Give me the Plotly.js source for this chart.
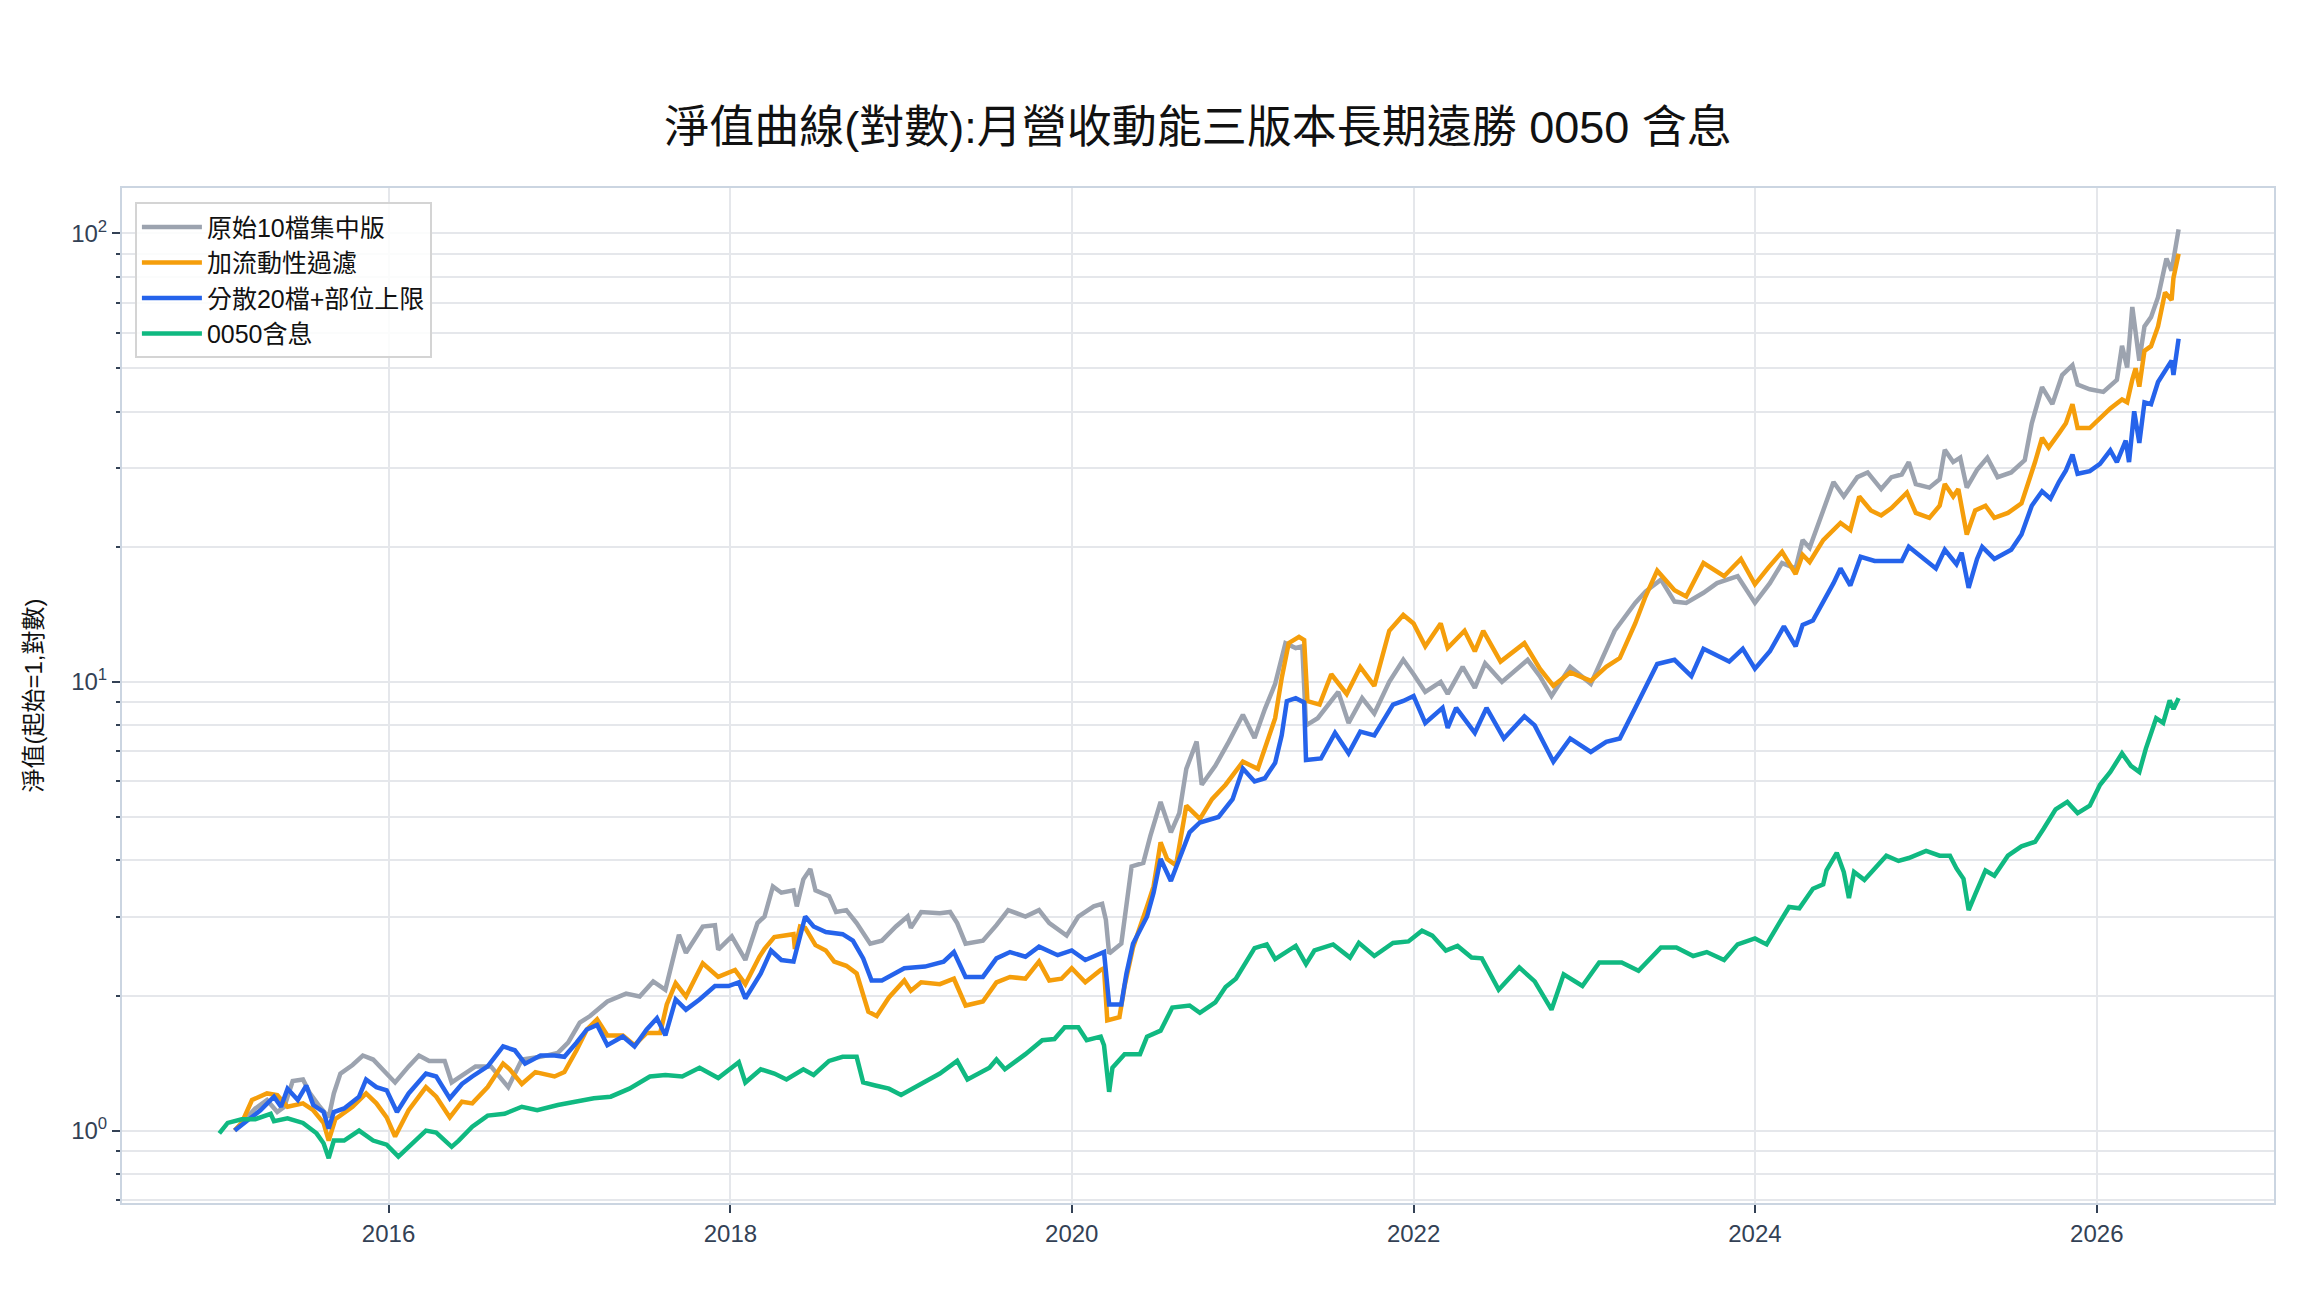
<!DOCTYPE html>
<html>
<head>
<meta charset="utf-8">
<script src="https://cdn.plot.ly/plotly-3.0.1.min.js"></script>
<style>
  html, body { margin: 0; padding: 0; background: #ffffff; }
  #chart { width: 2304px; height: 1296px; }
</style>
</head>
<body>
<div id="chart"></div>
<script>
// ---- Data (x in decimal years, y = net value, start = 1) ----
const seriesNames = ["原始10檔集中版", "加流動性過濾", "分散20檔+部位上限", "0050含息"];

const grayX = [2015.10,2015.14,2015.22,2015.29,2015.35,2015.39,2015.44,2015.50,2015.54,2015.60,2015.65,2015.68,2015.72,2015.79,2015.85,2015.91,2015.95,2016.04,2016.12,2016.18,2016.24,2016.33,2016.37,2016.43,2016.51,2016.60,2016.66,2016.70,2016.78,2016.89,2016.99,2017.05,2017.12,2017.18,2017.28,2017.39,2017.47,2017.55,2017.62,2017.70,2017.74,2017.84,2017.91,2017.93,2018.01,2018.09,2018.16,2018.20,2018.25,2018.30,2018.37,2018.39,2018.43,2018.47,2018.50,2018.58,2018.62,2018.68,2018.74,2018.82,2018.89,2018.97,2019.04,2019.06,2019.12,2019.23,2019.29,2019.33,2019.38,2019.48,2019.56,2019.63,2019.73,2019.81,2019.87,2019.97,2020.04,2020.13,2020.18,2020.20,2020.22,2020.29,2020.35,2020.42,2020.46,2020.52,2020.58,2020.63,2020.67,2020.73,2020.76,2020.84,2020.92,2021.00,2021.07,2021.13,2021.19,2021.25,2021.31,2021.35,2021.37,2021.44,2021.56,2021.62,2021.70,2021.77,2021.86,2021.94,2022.00,2022.07,2022.16,2022.20,2022.29,2022.36,2022.42,2022.52,2022.67,2022.74,2022.81,2022.92,2023.04,2023.18,2023.30,2023.36,2023.45,2023.53,2023.60,2023.70,2023.78,2023.90,2024.00,2024.09,2024.16,2024.24,2024.28,2024.32,2024.40,2024.46,2024.52,2024.56,2024.60,2024.66,2024.74,2024.80,2024.86,2024.90,2024.94,2025.02,2025.08,2025.11,2025.16,2025.20,2025.24,2025.30,2025.36,2025.42,2025.50,2025.58,2025.62,2025.68,2025.74,2025.80,2025.86,2025.89,2025.96,2026.04,2026.12,2026.15,2026.18,2026.21,2026.25,2026.28,2026.32,2026.36,2026.41,2026.44,2026.48];
const grayY = [1.00,1.04,1.12,1.17,1.10,1.13,1.29,1.30,1.21,1.13,1.07,1.21,1.34,1.40,1.47,1.44,1.39,1.28,1.39,1.47,1.43,1.43,1.28,1.33,1.39,1.39,1.30,1.25,1.44,1.46,1.49,1.57,1.74,1.80,1.94,2.02,1.99,2.15,2.06,2.73,2.49,2.85,2.87,2.53,2.71,2.40,2.90,3.00,3.50,3.39,3.43,3.16,3.63,3.83,3.43,3.33,3.07,3.10,2.90,2.61,2.65,2.85,3.00,2.83,3.07,3.05,3.07,2.90,2.61,2.65,2.87,3.10,3.00,3.10,2.90,2.72,3.00,3.16,3.20,2.95,2.48,2.61,3.88,3.95,4.53,5.40,4.62,5.10,6.40,7.36,5.90,6.50,7.36,8.45,7.50,8.70,9.90,12.2,11.9,12.0,8.00,8.30,9.50,8.10,9.20,8.50,10.0,11.2,10.4,9.50,10.0,9.40,10.8,9.70,11.0,10.0,11.2,10.3,9.30,10.8,9.90,13.0,15.0,15.9,16.9,15.1,15.0,15.8,16.6,17.2,15.0,16.6,18.4,17.9,20.7,19.9,24.1,27.9,25.9,27.1,28.6,29.3,26.9,28.6,29.0,30.9,27.6,27.1,28.3,32.9,30.9,31.6,27.1,29.7,31.6,28.6,29.3,31.2,37.7,45.4,41.6,48.3,50.8,46.0,44.9,44.3,47.1,56.1,50.2,68.5,52.0,62.0,65.0,72.0,87.8,82.5,102.0];

const orangeX = [2015.10,2015.14,2015.20,2015.29,2015.35,2015.41,2015.50,2015.56,2015.62,2015.65,2015.69,2015.79,2015.87,2015.93,2015.99,2016.04,2016.12,2016.22,2016.28,2016.36,2016.43,2016.49,2016.58,2016.67,2016.71,2016.78,2016.86,2016.97,2017.03,2017.10,2017.16,2017.22,2017.28,2017.37,2017.44,2017.51,2017.59,2017.63,2017.68,2017.74,2017.84,2017.93,2018.03,2018.09,2018.17,2018.20,2018.26,2018.37,2018.38,2018.41,2018.44,2018.50,2018.56,2018.61,2018.68,2018.74,2018.81,2018.86,2018.93,2019.02,2019.06,2019.12,2019.23,2019.31,2019.38,2019.48,2019.56,2019.64,2019.73,2019.81,2019.87,2019.94,2020.00,2020.08,2020.17,2020.19,2020.21,2020.28,2020.31,2020.36,2020.44,2020.48,2020.52,2020.56,2020.61,2020.67,2020.75,2020.82,2020.90,2021.00,2021.09,2021.15,2021.19,2021.23,2021.27,2021.33,2021.36,2021.38,2021.45,2021.52,2021.61,2021.69,2021.77,2021.86,2021.94,2022.00,2022.07,2022.16,2022.20,2022.30,2022.36,2022.41,2022.51,2022.65,2022.74,2022.82,2022.92,2023.04,2023.13,2023.21,2023.30,2023.36,2023.43,2023.53,2023.60,2023.70,2023.82,2023.92,2024.00,2024.08,2024.16,2024.24,2024.28,2024.32,2024.40,2024.50,2024.56,2024.61,2024.68,2024.74,2024.80,2024.89,2024.94,2025.02,2025.08,2025.11,2025.16,2025.19,2025.24,2025.29,2025.35,2025.40,2025.48,2025.56,2025.60,2025.64,2025.68,2025.72,2025.78,2025.82,2025.86,2025.89,2025.96,2026.04,2026.08,2026.15,2026.18,2026.21,2026.23,2026.25,2026.28,2026.32,2026.36,2026.40,2026.44,2026.45,2026.48];
const orangeY = [1.00,1.04,1.17,1.21,1.20,1.13,1.15,1.11,1.04,0.95,1.06,1.13,1.21,1.15,1.07,0.97,1.11,1.25,1.19,1.07,1.16,1.15,1.25,1.41,1.37,1.27,1.35,1.32,1.35,1.51,1.68,1.77,1.63,1.63,1.55,1.65,1.65,1.91,2.13,1.99,2.36,2.20,2.28,2.12,2.44,2.54,2.70,2.74,2.54,2.85,2.83,2.59,2.52,2.38,2.33,2.24,1.84,1.80,1.98,2.16,2.05,2.14,2.12,2.18,1.90,1.94,2.14,2.20,2.18,2.38,2.16,2.18,2.30,2.14,2.28,2.30,1.76,1.79,2.10,2.56,3.16,3.50,4.39,4.03,3.90,5.30,4.95,5.48,5.90,6.64,6.40,7.40,8.30,10.2,12.2,12.6,12.4,9.06,8.90,10.4,9.40,10.8,9.80,13.0,14.1,13.5,12.0,13.5,11.9,13.0,11.7,13.0,11.1,12.2,10.7,9.80,10.5,10.05,10.8,11.3,13.5,15.5,17.7,16.0,15.5,18.4,17.2,18.8,16.5,18.0,19.5,17.4,19.2,18.5,20.7,22.6,21.8,25.9,24.1,23.5,24.4,26.4,23.8,23.2,24.7,27.6,25.9,26.9,21.3,24.1,24.7,23.2,23.8,25.0,27.6,30.9,35.0,33.3,35.8,37.7,41.6,36.8,36.8,39.2,40.7,42.6,42.0,47.2,50.0,45.5,54.7,56.0,62.0,73.8,71.0,79.5,90.0];

const blueX = [2015.10,2015.18,2015.25,2015.33,2015.37,2015.41,2015.47,2015.52,2015.56,2015.62,2015.65,2015.68,2015.74,2015.83,2015.87,2015.93,2015.99,2016.05,2016.12,2016.22,2016.28,2016.36,2016.43,2016.49,2016.58,2016.67,2016.74,2016.80,2016.89,2016.97,2017.03,2017.10,2017.16,2017.22,2017.28,2017.37,2017.44,2017.51,2017.57,2017.62,2017.68,2017.74,2017.82,2017.91,2017.99,2018.05,2018.09,2018.18,2018.24,2018.30,2018.37,2018.44,2018.49,2018.56,2018.66,2018.72,2018.78,2018.83,2018.89,2019.02,2019.14,2019.25,2019.31,2019.38,2019.48,2019.56,2019.64,2019.73,2019.81,2019.92,2020.00,2020.08,2020.17,2020.19,2020.22,2020.29,2020.32,2020.36,2020.44,2020.48,2020.52,2020.58,2020.63,2020.69,2020.75,2020.86,2020.94,2021.00,2021.07,2021.13,2021.19,2021.23,2021.26,2021.31,2021.36,2021.37,2021.46,2021.54,2021.62,2021.69,2021.77,2021.88,2021.94,2022.00,2022.07,2022.17,2022.20,2022.25,2022.36,2022.43,2022.53,2022.65,2022.71,2022.82,2022.92,2023.04,2023.13,2023.21,2023.30,2023.43,2023.53,2023.63,2023.70,2023.85,2023.93,2024.00,2024.09,2024.17,2024.24,2024.28,2024.34,2024.38,2024.46,2024.50,2024.56,2024.62,2024.70,2024.78,2024.86,2024.90,2025.00,2025.06,2025.11,2025.18,2025.21,2025.25,2025.30,2025.33,2025.40,2025.50,2025.56,2025.62,2025.68,2025.73,2025.78,2025.82,2025.86,2025.89,2025.96,2026.02,2026.08,2026.12,2026.17,2026.19,2026.22,2026.25,2026.28,2026.32,2026.36,2026.40,2026.44,2026.45,2026.48];
const blueY = [1.00,1.06,1.11,1.19,1.13,1.24,1.17,1.26,1.14,1.10,1.01,1.10,1.12,1.19,1.30,1.25,1.23,1.10,1.21,1.34,1.32,1.18,1.27,1.32,1.39,1.54,1.51,1.41,1.47,1.47,1.46,1.57,1.68,1.72,1.55,1.62,1.54,1.68,1.78,1.63,1.96,1.86,1.96,2.10,2.10,2.14,1.97,2.24,2.52,2.40,2.38,3.00,2.85,2.77,2.74,2.65,2.42,2.16,2.16,2.30,2.32,2.38,2.50,2.20,2.20,2.42,2.50,2.44,2.57,2.46,2.52,2.40,2.48,2.50,1.91,1.91,2.24,2.61,3.00,3.39,4.03,3.60,4.03,4.62,4.86,5.00,5.48,6.41,6.00,6.10,6.60,7.60,9.06,9.20,9.00,6.70,6.75,7.70,6.93,7.75,7.60,8.90,9.07,9.30,8.10,8.75,7.90,8.75,7.70,8.75,7.48,8.38,8.00,6.64,7.48,6.98,7.35,7.48,8.75,10.96,11.2,10.3,11.85,11.1,11.85,10.7,11.7,13.3,12.0,13.4,13.7,14.6,16.6,17.9,16.4,19.0,18.6,18.6,18.6,20.0,18.6,17.9,19.7,18.3,19.4,16.2,18.8,20.0,18.8,19.7,21.3,24.7,26.6,25.6,27.9,29.6,32.1,29.1,29.5,30.6,32.8,30.9,34.5,30.9,40.1,34.1,42.0,41.6,46.6,49.5,52.0,48.3,58.2];

const greenX = [2015.01,2015.06,2015.14,2015.22,2015.31,2015.33,2015.41,2015.50,2015.58,2015.62,2015.65,2015.68,2015.74,2015.83,2015.91,2015.99,2016.06,2016.12,2016.22,2016.28,2016.37,2016.41,2016.49,2016.58,2016.68,2016.78,2016.87,2016.99,2017.10,2017.20,2017.30,2017.41,2017.53,2017.62,2017.72,2017.82,2017.93,2018.05,2018.09,2018.18,2018.26,2018.33,2018.43,2018.49,2018.58,2018.66,2018.74,2018.78,2018.85,2018.93,2019.00,2019.10,2019.23,2019.33,2019.39,2019.52,2019.56,2019.61,2019.73,2019.83,2019.90,2019.96,2020.04,2020.09,2020.17,2020.19,2020.22,2020.24,2020.31,2020.40,2020.44,2020.52,2020.59,2020.69,2020.75,2020.84,2020.90,2020.96,2021.00,2021.07,2021.14,2021.19,2021.31,2021.37,2021.42,2021.53,2021.63,2021.68,2021.77,2021.88,2021.97,2022.05,2022.11,2022.19,2022.26,2022.34,2022.40,2022.50,2022.62,2022.71,2022.81,2022.88,2022.99,2023.09,2023.22,2023.32,2023.45,2023.54,2023.64,2023.72,2023.82,2023.90,2024.00,2024.07,2024.14,2024.20,2024.26,2024.34,2024.40,2024.42,2024.48,2024.52,2024.55,2024.58,2024.64,2024.70,2024.77,2024.84,2024.90,2025.00,2025.08,2025.14,2025.18,2025.22,2025.25,2025.29,2025.35,2025.40,2025.48,2025.56,2025.64,2025.69,2025.76,2025.83,2025.89,2025.96,2026.02,2026.08,2026.15,2026.20,2026.25,2026.29,2026.35,2026.39,2026.43,2026.45,2026.48];
const greenY = [0.986,1.04,1.06,1.06,1.09,1.05,1.065,1.04,0.986,0.937,0.868,0.95,0.95,1.00,0.95,0.93,0.875,0.92,1.00,0.99,0.92,0.95,1.02,1.08,1.09,1.13,1.11,1.14,1.16,1.18,1.19,1.24,1.32,1.33,1.32,1.38,1.31,1.42,1.28,1.37,1.34,1.30,1.37,1.33,1.43,1.46,1.46,1.28,1.26,1.24,1.20,1.26,1.34,1.43,1.30,1.38,1.44,1.37,1.48,1.59,1.60,1.70,1.70,1.59,1.62,1.55,1.22,1.38,1.48,1.48,1.62,1.67,1.88,1.90,1.83,1.93,2.09,2.18,2.32,2.55,2.60,2.41,2.58,2.35,2.52,2.60,2.43,2.62,2.45,2.62,2.64,2.79,2.72,2.52,2.58,2.43,2.42,2.06,2.31,2.15,1.86,2.23,2.10,2.37,2.37,2.27,2.56,2.56,2.45,2.50,2.40,2.60,2.68,2.60,2.89,3.15,3.13,3.46,3.54,3.80,4.16,3.77,3.30,3.77,3.62,3.84,4.10,3.99,4.05,4.20,4.10,4.10,3.84,3.64,3.10,3.36,3.80,3.70,4.10,4.30,4.40,4.70,5.20,5.40,5.10,5.30,5.90,6.30,6.93,6.50,6.30,7.10,8.30,8.10,9.10,8.70,9.20];

const yTickVals = [1, 10, 100];
const yTickText = ["10<sup>0</sup>", "10<sup>1</sup>", "10<sup>2</sup>"];

const colors = ["#9ca3af", "#f59e0b", "#2563eb", "#10b981"];

// decimal year -> ISO date string
function yrToDate(y) {
  const Y = Math.floor(y);
  const start = Date.UTC(Y, 0, 1);
  const end = Date.UTC(Y + 1, 0, 1);
  return new Date(start + (y - Y) * (end - start)).toISOString().slice(0, 10);
}

const xs = [grayX, orangeX, blueX, greenX];
const ys = [grayY, orangeY, blueY, greenY];

const traces = seriesNames.map((name, i) => ({
  type: "scatter",
  mode: "lines",
  name: name,
  x: xs[i].map(yrToDate),
  y: ys[i],
  line: { color: colors[i], width: 4.5 }
}));

const fontFamily = "'Liberation Sans', Arial, 'Noto Sans CJK TC', sans-serif";

const layout = {
  width: 2304,
  height: 1296,
  paper_bgcolor: "#ffffff",
  plot_bgcolor: "#ffffff",
  margin: { l: 122, r: 30, t: 188, b: 93 },
  font: { family: fontFamily, size: 24, color: "#334155" },
  title: {
    text: "淨值曲線(對數):月營收動能三版本長期遠勝 0050 含息",
    font: { family: fontFamily, size: 45, color: "#111111" },
    x: 0.5, xanchor: "center", xref: "paper",
    y: 1 - 127 / 1296, yanchor: "middle", yref: "container"
  },
  showlegend: true,
  legend: {
    x: 0.006, y: 0.986, xanchor: "left", yanchor: "top",
    bgcolor: "rgba(255,255,255,0.85)",
    bordercolor: "#d4d4d4", borderwidth: 2,
    font: { family: fontFamily, size: 25, color: "#111111" },
    itemwidth: 60,
    tracegroupgap: 0
  },
  xaxis: {
    type: "date",
    range: ["2014-06-10", "2027-01-15"],
    tick0: "2016-01-01",
    dtick: "M24",
    tickformat: "%Y",
    showgrid: true,
    gridcolor: "#e5e7eb",
    gridwidth: 2,
    ticks: "outside",
    ticklen: 8,
    tickwidth: 2,
    tickcolor: "#334155",
    tickfont: { size: 24, color: "#334155" },
    showline: true,
    linecolor: "#cbd5e1",
    linewidth: 2,
    mirror: true,
    zeroline: false
  },
  yaxis: {
    type: "log",
    range: [-0.1614, 2.1008],
    tickvals: yTickVals,
    ticktext: yTickText,
    showgrid: true,
    gridcolor: "#e5e7eb",
    gridwidth: 2,
    ticks: "outside",
    ticklen: 8,
    tickwidth: 2,
    tickcolor: "#334155",
    tickfont: { size: 24, color: "#334155" },
    minor: {
      dtick: "D1",
      ticks: "outside",
      ticklen: 4,
      tickwidth: 2,
      tickcolor: "#334155",
      showgrid: true,
      gridcolor: "#e5e7eb",
      gridwidth: 2
    },
    showline: true,
    linecolor: "#cbd5e1",
    linewidth: 2,
    mirror: true,
    zeroline: false,
    title: {
      text: "淨值(起始=1,對數)",
      font: { family: fontFamily, size: 24, color: "#111111" },
      standoff: 22
    }
  }
};

Plotly.newPlot("chart", traces, layout, { displayModeBar: false, staticPlot: true });
</script>
</body>
</html>
